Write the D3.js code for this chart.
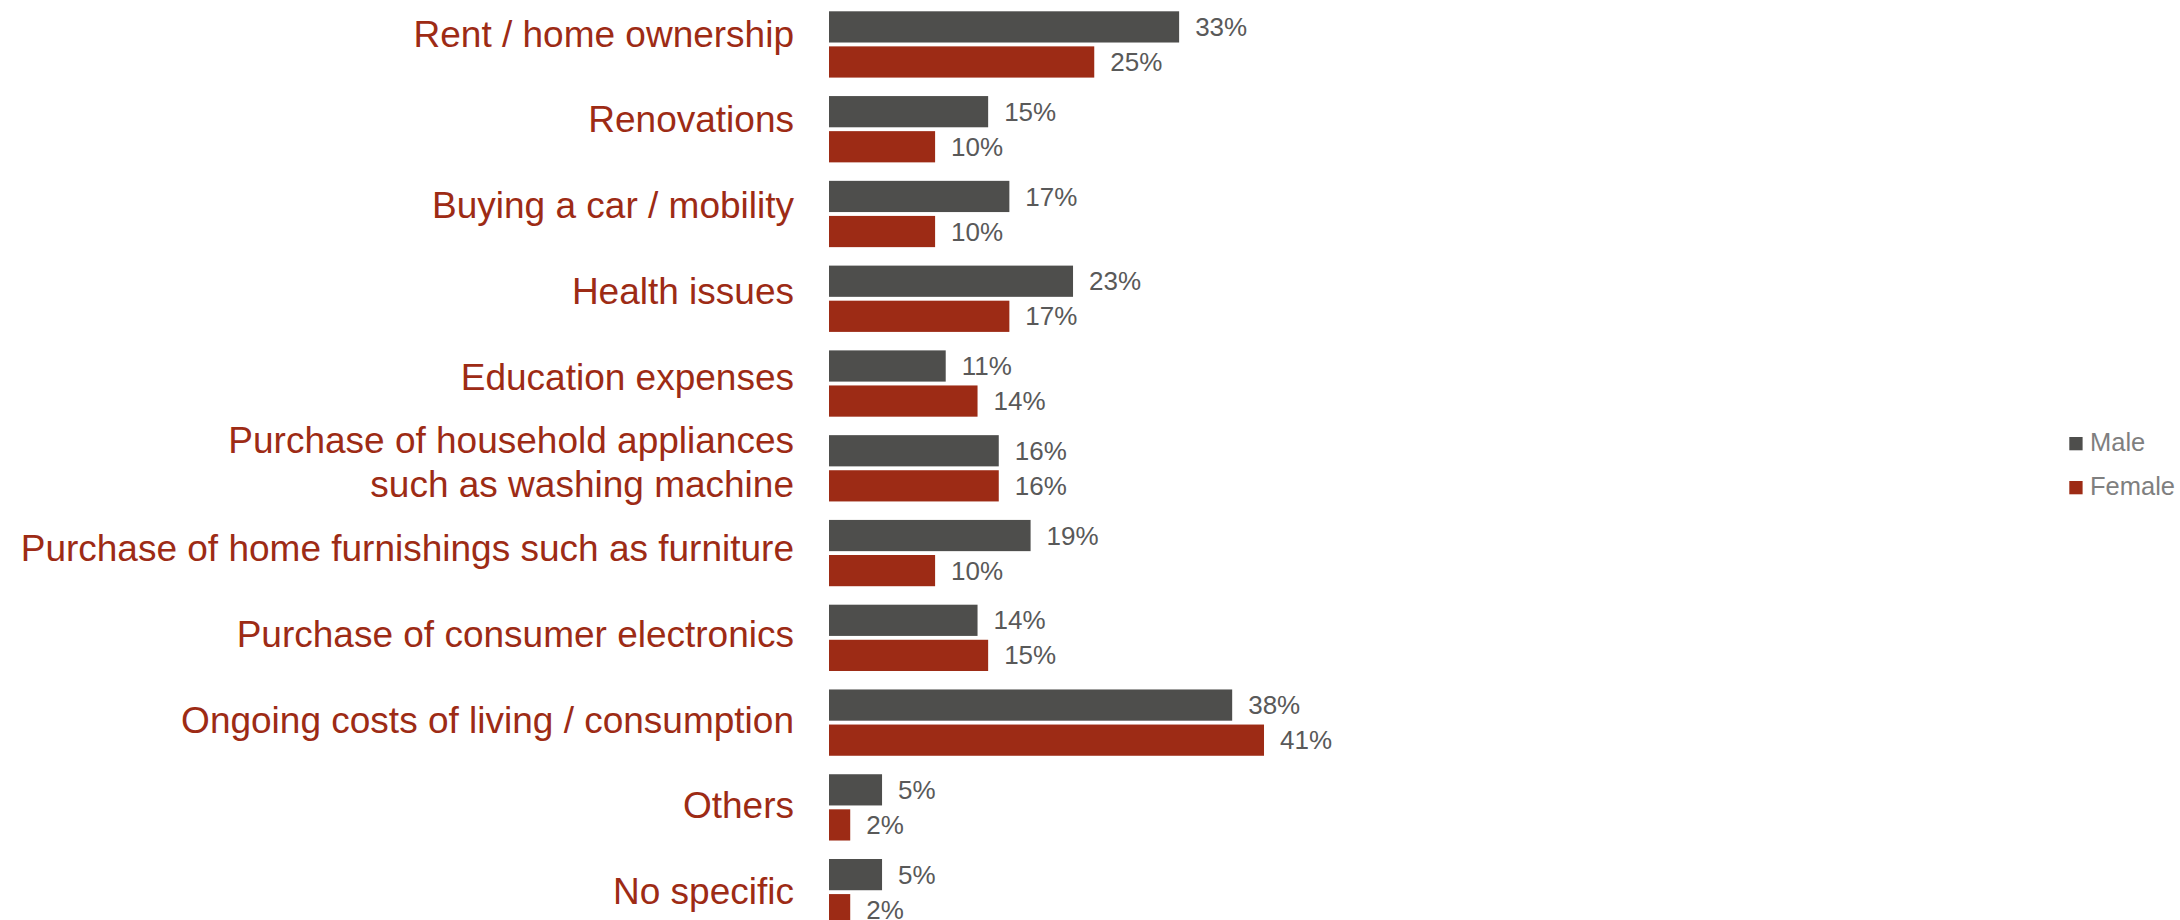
<!DOCTYPE html>
<html>
<head>
<meta charset="utf-8">
<script src="https://cdn.jsdelivr.net/npm/d3@7"></script>
<style>
  html, body { margin: 0; padding: 0; background: #ffffff; }
  svg { display: block; font-family: "Liberation Sans", Arial, sans-serif; }
</style>
</head>
<body>
<svg id="chart" width="2180" height="920"></svg>
<script>
// Spending reasons, share of respondents by gender
const categories = [
  "Rent / home ownership",
  "Renovations",
  "Buying a car / mobility",
  "Health issues",
  "Education expenses",
  "Purchase of household appliances\nsuch as washing machine",
  "Purchase of home furnishings such as furniture",
  "Purchase of consumer electronics",
  "Ongoing costs of living / consumption",
  "Others",
  "No specific"
];
const seriesNames = ["Male", "Female"];
const maleValues   = [0.33, 0.15, 0.17, 0.23, 0.11, 0.16, 0.19, 0.14, 0.38, 0.05, 0.05];
const femaleValues = [0.25, 0.10, 0.10, 0.17, 0.14, 0.16, 0.10, 0.15, 0.41, 0.02, 0.02];

const colors = { Male: "#4e4e4c", Female: "#9d2b15" };

const rows = categories.map((c, i) => ({
  category: c,
  values: [
    { series: "Male", value: maleValues[i] },
    { series: "Female", value: femaleValues[i] }
  ]
}));

const svg = d3.select("#chart");

const x = d3.scaleLinear().domain([0, 1]).range([829, 829 + 1061]);

const y0 = d3.scaleBand()
  .domain(categories)
  .range([11.3, 925.3])
  .paddingInner(0.218)
  .paddingOuter(0);

const y1 = d3.scaleBand()
  .domain(seriesNames)
  .range([0, y0.bandwidth()])
  .paddingInner(0.11);

// category labels sit on their own evenly spaced baselines
const labelY = d3.scalePoint()
  .domain(categories)
  .range([46.7, 904]);

const lineGap = 44;
const fmt = d3.format(".0%");

const groups = svg.append("g").selectAll("g")
  .data(rows)
  .join("g")
  .attr("transform", d => `translate(0,${y0(d.category)})`);

groups.selectAll("rect")
  .data(d => d.values)
  .join("rect")
  .attr("x", x(0))
  .attr("y", d => y1(d.series))
  .attr("width", d => x(d.value) - x(0))
  .attr("height", y1.bandwidth())
  .attr("fill", d => colors[d.series]);

groups.selectAll("text.value")
  .data(d => d.values)
  .join("text")
  .attr("class", "value")
  .attr("x", d => x(d.value) + 16)
  .attr("y", d => y1(d.series) + y1.bandwidth() / 2)
  .attr("dy", "0.35em")
  .attr("font-size", 26)
  .attr("fill", "#595959")
  .text(d => fmt(d.value));

// category axis labels
const labels = svg.append("g").selectAll("text")
  .data(categories)
  .join("text")
  .attr("x", 794)
  .attr("text-anchor", "end")
  .attr("font-size", 37)
  .attr("fill", "#9d2b15");

labels.each(function(c) {
  const lines = c.split("\n");
  const n = lines.length;
  const base = labelY(c);
  d3.select(this).selectAll("tspan")
    .data(lines)
    .join("tspan")
    .attr("x", 794)
    .attr("y", (l, k) => base + (k - (n - 1) / 2) * lineGap)
    .text(l => l);
});

// legend
const legend = svg.append("g").selectAll("g")
  .data(seriesNames)
  .join("g")
  .attr("transform", (d, i) => `translate(2069.3,${437 + i * 44})`);

legend.append("rect")
  .attr("width", 13.3)
  .attr("height", 13.3)
  .attr("fill", d => colors[d]);

legend.append("text")
  .attr("x", 20.7)
  .attr("y", 13.5)
  .attr("font-size", 25.5)
  .attr("fill", "#7f7f7f")
  .text(d => d);
</script>
</body>
</html>
